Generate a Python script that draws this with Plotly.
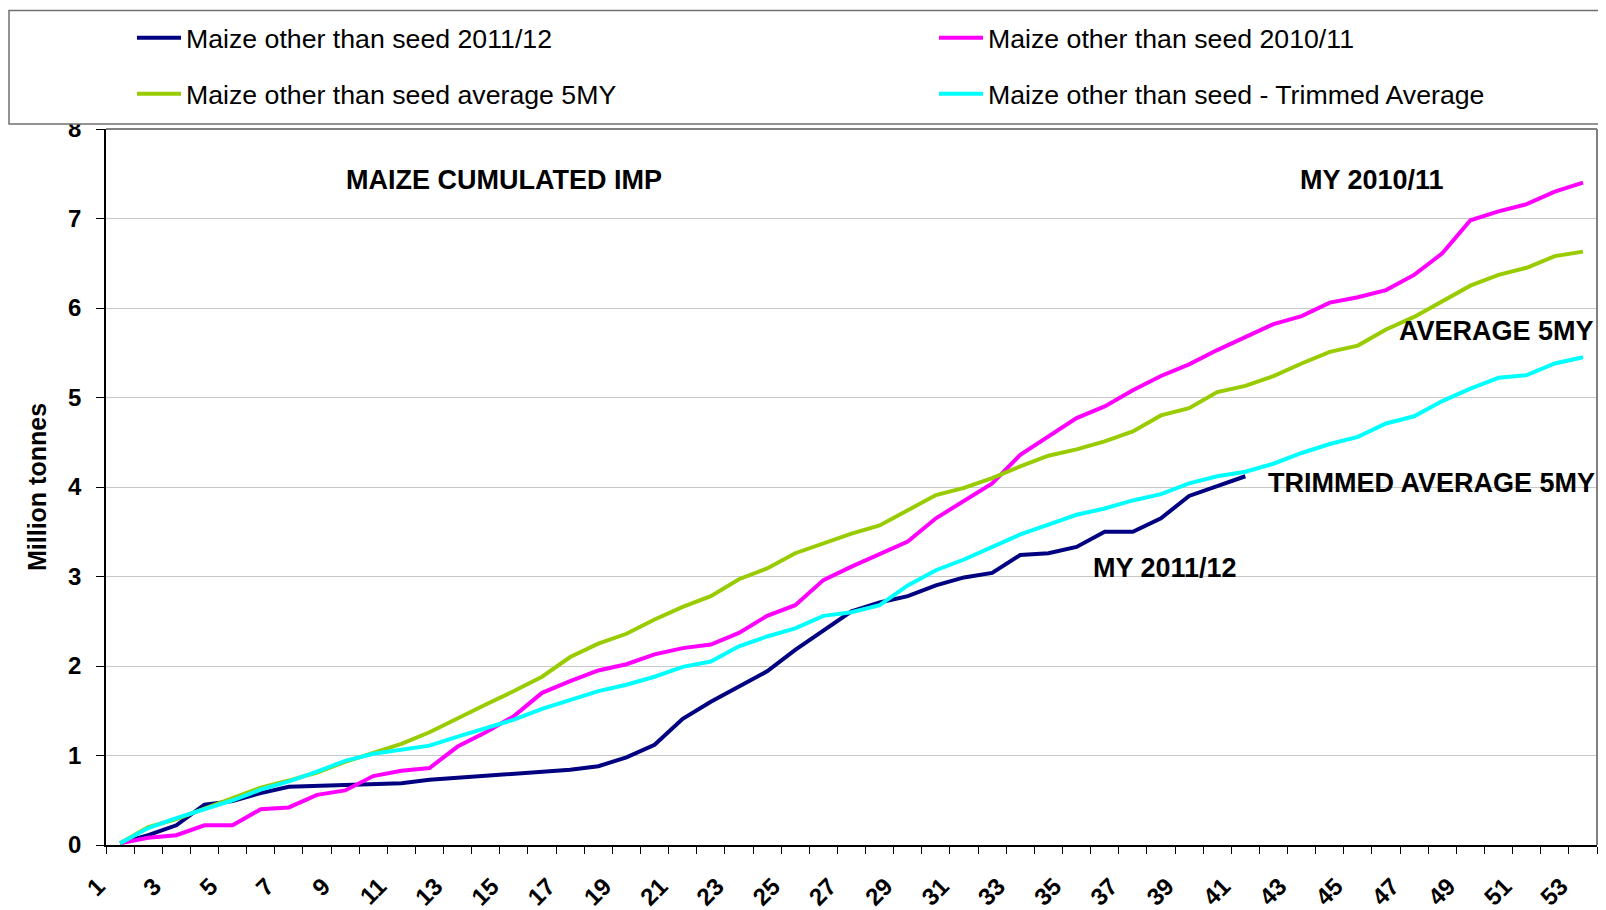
import plotly.graph_objects as go

# ---- data -------------------------------------------------------------
weeks = list(range(1, 54))

my_2011_12 = [0.02, 0.11, 0.22, 0.45, 0.49, 0.58, 0.65, 0.66, 0.67, 0.68,
              0.69, 0.73, 0.75, 0.77, 0.80, 0.82, 0.84, 0.88, 0.98, 1.12,
              1.41, 1.60, 1.77, 1.94, 2.18, 2.39, 2.61, 2.71, 2.78, 2.90,
              2.99, 3.04, 3.24, 3.26, 3.33, 3.50, 3.50, 3.65, 3.90, 4.01,
              4.12]

my_2010_11 = [0.02, 0.08, 0.11, 0.22, 0.22, 0.40, 0.42, 0.56, 0.61, 0.77,
              0.83, 0.86, 1.10, 1.26, 1.44, 1.70, 1.83, 1.95, 2.02, 2.13,
              2.20, 2.24, 2.37, 2.56, 2.68, 2.96, 3.11, 3.25, 3.39, 3.65,
              3.85, 4.04, 4.36, 4.56, 4.77, 4.90, 5.08, 5.24, 5.37, 5.53,
              5.67, 5.82, 5.91, 6.06, 6.12, 6.20, 6.37, 6.61, 6.98, 7.08,
              7.16, 7.30, 7.40]

avg_5my = [0.02, 0.20, 0.29, 0.41, 0.52, 0.64, 0.72, 0.81, 0.93, 1.03,
           1.13, 1.26, 1.42, 1.57, 1.72, 1.88, 2.10, 2.25, 2.36, 2.52,
           2.66, 2.78, 2.97, 3.09, 3.26, 3.37, 3.48, 3.57, 3.74, 3.91,
           3.99, 4.10, 4.23, 4.35, 4.42, 4.51, 4.62, 4.80, 4.88, 5.06,
           5.13, 5.24, 5.38, 5.51, 5.58, 5.76, 5.90, 6.07, 6.25, 6.37,
           6.45, 6.58, 6.63]

trimmed_avg = [0.02, 0.19, 0.30, 0.40, 0.50, 0.62, 0.71, 0.82, 0.94, 1.02,
               1.06, 1.11, 1.21, 1.31, 1.40, 1.52, 1.62, 1.72, 1.79, 1.88,
               1.99, 2.05, 2.22, 2.33, 2.42, 2.56, 2.60, 2.68, 2.90, 3.07,
               3.19, 3.33, 3.47, 3.58, 3.69, 3.76, 3.85, 3.92, 4.04, 4.12,
               4.17, 4.26, 4.38, 4.48, 4.56, 4.71, 4.79, 4.96, 5.10, 5.22,
               5.25, 5.38, 5.45]

series_names = ["Maize other than seed 2011/12",
                "Maize other than seed 2010/11",
                "Maize other than seed average 5MY",
                "Maize other than seed - Trimmed Average"]
series_colors = ["#000080", "#FF00FF", "#99CC00", "#00FFFF"]

x_tick_vals = list(range(1, 54, 2))
x_tick_text = [str(v) for v in x_tick_vals]
y_tick_vals = list(range(0, 9))

# ---- figure -----------------------------------------------------------
# page has an 8px body margin, so the figure is laid out 8px up/left
W, H = 1606, 910
ML, MR, MT, MB = 98, 17, 121, 73
PW, PH = W - ML - MR, H - MT - MB

BOLD = "Arial, 'Liberation Sans', sans-serif"


def py(px_y):
    """figure pixel y -> paper y"""
    return 1 + (MT - px_y) / PH


def pxx(px_x):
    """figure pixel x -> paper x"""
    return (px_x - ML) / PW


fig = go.Figure()
series = [my_2011_12, my_2010_11, avg_5my, trimmed_avg]
legend_ids = ["legend", "legend2", "legend3", "legend4"]
for ys, name, col, lg in zip(series, series_names, series_colors, legend_ids):
    fig.add_trace(go.Scatter(x=weeks[:len(ys)], y=ys, mode="lines", name=name,
                             line=dict(color=col, width=4), legend=lg))

legend_common = dict(orientation="h", xanchor="left", yanchor="middle",
                     bgcolor="rgba(0,0,0,0)", borderwidth=0, itemwidth=44,
                     font=dict(family=BOLD, size=26.7, color="black"))
legend_pos = {"legend": (124, 30), "legend2": (926, 30),
              "legend3": (124, 86), "legend4": (926, 86)}

layout_legends = {k: dict(x=pxx(v[0]), y=py(v[1]), **legend_common)
                  for k, v in legend_pos.items()}

fig.update_layout(
    width=W, height=H,
    margin=dict(l=ML, r=MR, t=MT, b=MB, autoexpand=False),
    paper_bgcolor="white", plot_bgcolor="white",
    showlegend=True,
    **layout_legends,
    xaxis=dict(range=[0.5, 53.5], tickmode="array", tickvals=x_tick_vals,
               ticktext=x_tick_text, ticks="", showgrid=False,
               tickangle=-45, ticklabelstandoff=16, ticklabelshift=-22,
               tickfont=dict(family=BOLD, size=24, color="black", weight=700),
               showline=True, linecolor="black", linewidth=1.5,
               zeroline=False,
               minor=dict(tickmode="linear", tick0=0.5, dtick=1,
                          ticks="outside", ticklen=7, tickcolor="black",
                          tickwidth=1, showgrid=False)),
    yaxis=dict(range=[0, 8], tickmode="array", tickvals=y_tick_vals,
               ticks="outside", ticklen=8, tickcolor="black", tickwidth=1,
               ticklabelstandoff=10,
               showgrid=True, gridcolor="#C8C8C8", gridwidth=1.2,
               showline=True, linecolor="black", linewidth=1.5,
               zeroline=False,
               tickfont=dict(family=BOLD, size=24, color="black", weight=700),
               title=dict(text="Million tonnes", standoff=14,
                          font=dict(family=BOLD, size=25, color="black",
                                    weight=700))),
)

# plot-area border (top/right) in grey
fig.add_shape(type="line", xref="paper", yref="paper", x0=0, x1=1, y0=1, y1=1,
              line=dict(color="#808080", width=2))
fig.add_shape(type="line", xref="paper", yref="paper", x0=1, x1=1, y0=0, y1=1,
              line=dict(color="#808080", width=2))
# legend frame
fig.add_shape(type="rect", xref="paper", yref="paper",
              x0=pxx(1), x1=pxx(1625), y0=py(116), y1=py(2.5),
              line=dict(color="#707070", width=1.5), fillcolor="white",
              layer="above")

ann_font = dict(family=BOLD, size=27, color="black", weight=700)
labels = [("MAIZE CUMULATED IMP", 14.66, 7.43, "center"),
          ("MY 2010/11", 45.5, 7.43, "center"),
          ("AVERAGE 5MY", 53.45, 5.74, "right"),
          ("TRIMMED AVERAGE 5MY", 53.5, 4.05, "right"),
          ("MY 2011/12", 38.15, 3.09, "center")]
for txt, xv, yv, anc in labels:
    fig.add_annotation(text=txt, x=xv, y=yv, xref="x", yref="y",
                       xanchor=anc, yanchor="middle", showarrow=False,
                       font=ann_font)

fig.write_html("out.html")
